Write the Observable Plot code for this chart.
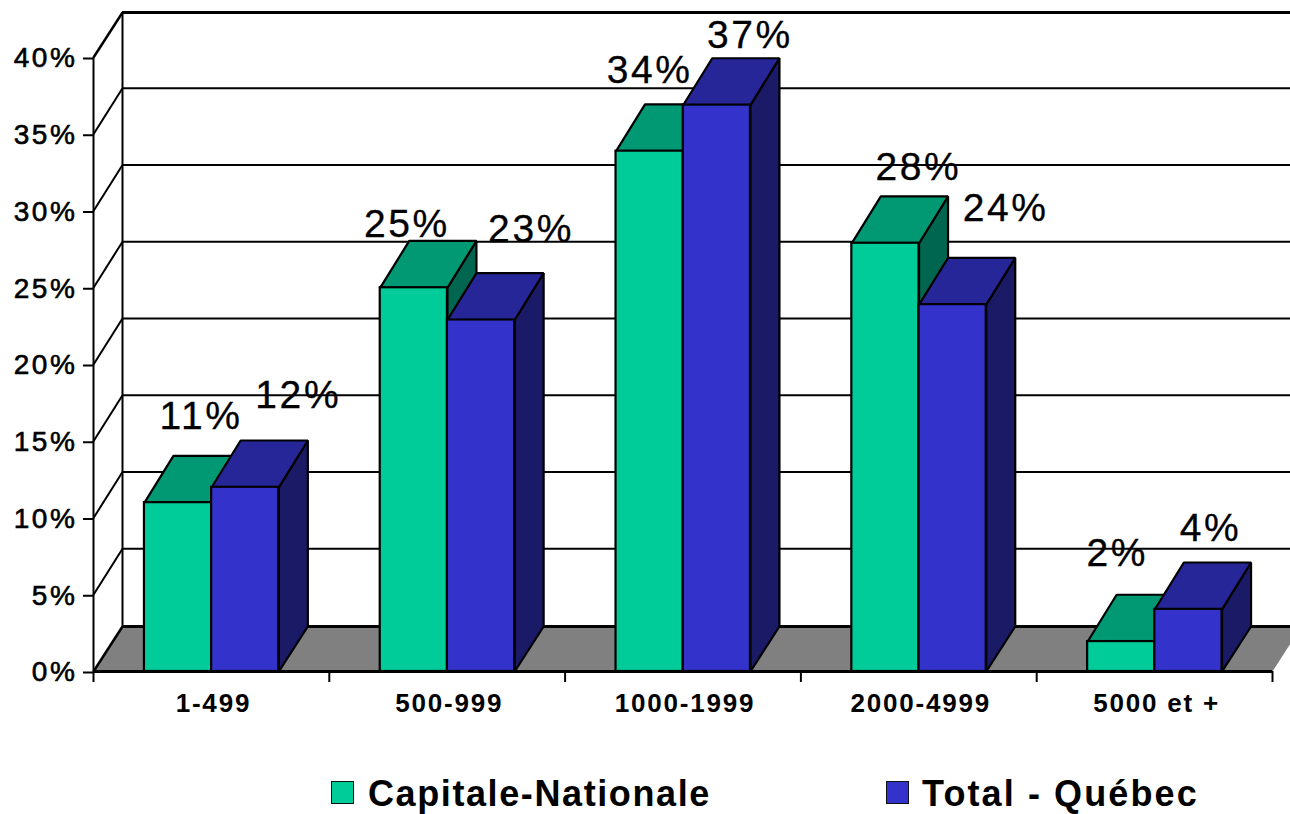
<!DOCTYPE html>
<html lang="fr"><head><meta charset="utf-8">
<script src="https://cdn.jsdelivr.net/npm/d3@7"></script>
<script src="https://cdn.jsdelivr.net/npm/@observablehq/plot@0.6"></script>
<style>
html,body{margin:0;padding:0;background:#fff;overflow:hidden}
#chart svg{display:block;max-width:none;font-family:"Liberation Sans",Arial,sans-serif}
[aria-label="y-axis tick label"] text{letter-spacing:2.6px;stroke:#000;stroke-width:.6px}
[aria-label="x-axis tick label"] text{letter-spacing:1.8px;font-weight:700}
.dl text{letter-spacing:2.6px;stroke:#000;stroke-width:.3px}
#legend{position:relative;height:54px;font:700 36px "Liberation Sans",Arial,sans-serif;color:#000}
#legend i{position:absolute;top:21px;width:21px;height:21px;border:1.5px solid #111}
#legend span{position:absolute;top:12px;line-height:44px;white-space:nowrap}
</style></head><body>
<div id="chart"></div>
<div id="legend"></div>
<script>
const categories = ["1-499","500-999","1000-1999","2000-4999","5000 et +"];
const seriesNames = ["Capitale-Nationale","Total - Québec"];
const capitale = [11.0,25.0,33.9,27.9,1.95];
const quebec = [12.0,22.9,36.9,23.9,4.05];
const yTicks = [0,5,10,15,20,25,30,35,40];
const labelDx = [[23,-7,0,33,-4],[53,50,33,53,22]];
const labelDy = [[-86,-63,-81,-76,-88],[-92,-90,-70,-96,-81]];
const front = ["#00CC99","#3333CC"], top_ = ["#009973","#262699"], side = ["#006650","#1A1A66"];

const depthX = 0.123, depthY = 2.93;   // floor depth in data units
const wallDepth = 3.0, barDepth = 3.05;
const barStart = 0.216, barW = 0.285;
const outline = {stroke:"#000", strokeWidth:2.2, strokeLinejoin:"miter", strokeLinecap:"square"};

function poly(id, pts){return [...pts, pts[0]].map(([x,y]) => ({id,x,y}));}
function bar(v,i,s){
  const a=i+barStart+s*barW, b=a+barW;
  return [
    Plot.line(poly("side",[[b,0],[b+depthX,depthY],[b+depthX,v+barDepth],[b,v]]),{x:"x",y:"y",z:"id",fill:side[s],...outline}),
    Plot.line(poly("top",[[a,v],[b,v],[b+depthX,v+barDepth],[a+depthX,v+barDepth]]),{x:"x",y:"y",z:"id",fill:top_[s],...outline}),
    Plot.rect([{a,b,v}],{x1:"a",x2:"b",y1:0,y2:"v",fill:front[s],...outline,inset:0})
  ];
}
function labels(values,s){
  return values.map((v,i)=>Plot.text([{x:i+barStart+s*barW+barW/2,y:v,t:Math.round(v)+"%"}],{
    x:"x",y:"y",text:"t",dx:labelDx[s][i],dy:labelDy[s][i],fontSize:39,fill:"#000",
    textAnchor:"middle",lineAnchor:"middle",className:"dl"}));
}
const wallY = d => d + (d===40 ? depthY : wallDepth);

const xEnd = categories.length;
const chart = Plot.plot({
  width:1290, height:760,
  marginLeft:93, marginRight:18, marginTop:57, marginBottom:89,
  style:{background:"#fff",fontFamily:'"Liberation Sans",Arial,sans-serif',color:"#000",overflow:"hidden"},
  x:{domain:[0,xEnd]}, y:{domain:[0,40]},
  marks:[
    // floor
    Plot.line(poly("floor",[[0,0],[depthX,depthY],[xEnd+depthX,depthY],[xEnd,0]]),{x:"x",y:"y",z:"id",fill:"#808080",stroke:"none"}),
    // back wall grid
    Plot.ruleY(yTicks.slice(1),{y:wallY,x1:depthX,x2:xEnd+depthX,stroke:"#000",strokeWidth:d=>d===40?3:2}),
    Plot.ruleY([depthY],{x1:depthX,x2:xEnd+depthX,stroke:"#000",strokeWidth:3}),
    // side wall
    Plot.link(yTicks.slice(1),{x1:0,y1:d=>d,x2:depthX,y2:wallY,stroke:"#000",strokeWidth:d=>d===40?2.5:2}),
    Plot.link([0],{x1:0,y1:0,x2:depthX,y2:depthY,stroke:"#000",strokeWidth:2.5}),
    Plot.ruleX([depthX],{y1:depthY,y2:40+depthY,stroke:"#000",strokeWidth:2}),
    ...categories.flatMap((c,i)=>[...bar(capitale[i],i,0),...bar(quebec[i],i,1)]),
    ...labels(capitale,0),
    ...labels(quebec,1),
    // axes
    Plot.axisY({ticks:yTicks,tickFormat:d=>d+"%",tickSize:10,tickPadding:6,dy:1,fontSize:28,label:null,stroke:"#000",strokeWidth:2,fill:"#000"}),
    Plot.ruleX([0],{y1:0,y2:40,stroke:"#000",strokeWidth:2}),
    Plot.ruleY([0],{x1:0,x2:xEnd,stroke:"#000",strokeWidth:3}),
    Plot.axisX({ticks:d3.range(xEnd+1),tickFormat:()=>"",tickSize:11,label:null,stroke:"#000",strokeWidth:2}),
    Plot.axisX({ticks:d3.range(xEnd).map(d=>d+0.5),tickFormat:d=>categories[d-0.5],tickSize:0,tickPadding:22,dx:2,fontSize:26,label:null,fill:"#000",stroke:"none"})
  ]
});
document.getElementById("chart").append(chart);

const lg = document.getElementById("legend");
[{sw:331,tx:368,ls:"1.6px"},{sw:886,tx:922,ls:"2.1px"}].forEach((p,s)=>{
  const i=document.createElement("i"); i.style.left=p.sw+"px"; i.style.background=front[s];
  const t=document.createElement("span"); t.style.left=p.tx+"px"; t.style.letterSpacing=p.ls; t.textContent=seriesNames[s];
  lg.append(i,t);
});
</script></body></html>
